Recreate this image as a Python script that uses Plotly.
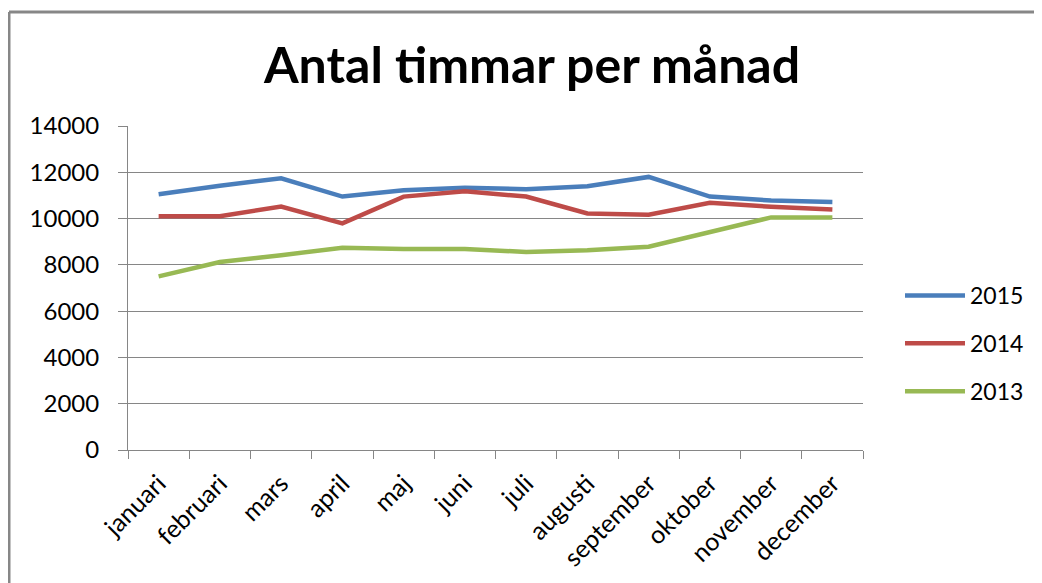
import plotly.graph_objects as go

months = ["januari", "februari", "mars", "april", "maj", "juni", "juli",
          "augusti", "september", "oktober", "november", "december"]
v2015 = [11050, 11420, 11740, 10950, 11220, 11330, 11270, 11400, 11800, 10950, 10780, 10720]
v2014 = [10100, 10100, 10520, 9790, 10950, 11180, 10950, 10220, 10170, 10680, 10510, 10390]
v2013 = [7500, 8120, 8420, 8740, 8680, 8680, 8560, 8630, 8780, 9420, 10050, 10050]
series = [("2015", v2015, "#4A7EBB"), ("2014", v2014, "#BE4B48"), ("2013", v2013, "#98B954")]

fig = go.Figure()
for name, vals, col in series:
    fig.add_trace(go.Scatter(x=months, y=vals, name=name, mode="lines", legendgroup=name,
                             line=dict(color=col, width=4.5)))

# page body has an 8px margin, so figure coordinates = screen - 8
W, H = 1034, 575
L, R, T, B = 120, 855, 118, 442
FONT = "Lato, Open Sans, sans-serif"
fig.update_layout(
    width=W, height=H,
    margin=dict(l=L, r=W - R, t=T, b=H - B, autoexpand=False),
    paper_bgcolor="white", plot_bgcolor="white",
    font=dict(family=FONT, size=22, color="black"),
    title=dict(text="<b>Antal timmar per månad</b>", x=524 / W, xref="container", xanchor="center",
               y=1 - 57 / H, yref="container", yanchor="middle",
               font=dict(size=50, family=FONT)),
    showlegend=True,
    legend=dict(x=(892 - L) / (R - L), y=(B - 266) / (B - T), xanchor="left", yanchor="top",
                font=dict(size=23), tracegroupgap=15, itemwidth=60, bgcolor="rgba(0,0,0,0)"),
    xaxis=dict(tickangle=-45, showgrid=False, showline=True, linecolor="#868686", linewidth=1,
               range=[-0.5, len(months) - 0.5],
               ticks="outside", tickson="boundaries", ticklen=8, tickcolor="#868686",
               tickfont=dict(size=25), ticklabelstandoff=8, automargin=False),
    yaxis=dict(range=[0, 14000], dtick=2000, tickformat="d", showgrid=True, gridcolor="#868686",
               gridwidth=1, showline=True, linecolor="#868686", linewidth=1, ticks="outside",
               ticklen=9, tickcolor="#868686", tickfont=dict(size=24), zeroline=False,
               ticklabelstandoff=14, automargin=False),
)
pw, ph = R - L, B - T
# outer chart border: top and left edges only visible in the reference
fig.add_shape(type="line", xref="paper", yref="paper",
              x0=(1 - L) / pw, x1=(W + 20 - L) / pw, y0=(B - 4) / ph, y1=(B - 4) / ph,
              line=dict(color="#878787", width=3), layer="below")
fig.add_shape(type="line", xref="paper", yref="paper",
              x0=(1 - L) / pw, x1=(1 - L) / pw, y0=(B - 4) / ph, y1=(B - H - 20) / ph,
              line=dict(color="#878787", width=3), layer="below")
fig.write_html("out.html", config={"displayModeBar": False})
